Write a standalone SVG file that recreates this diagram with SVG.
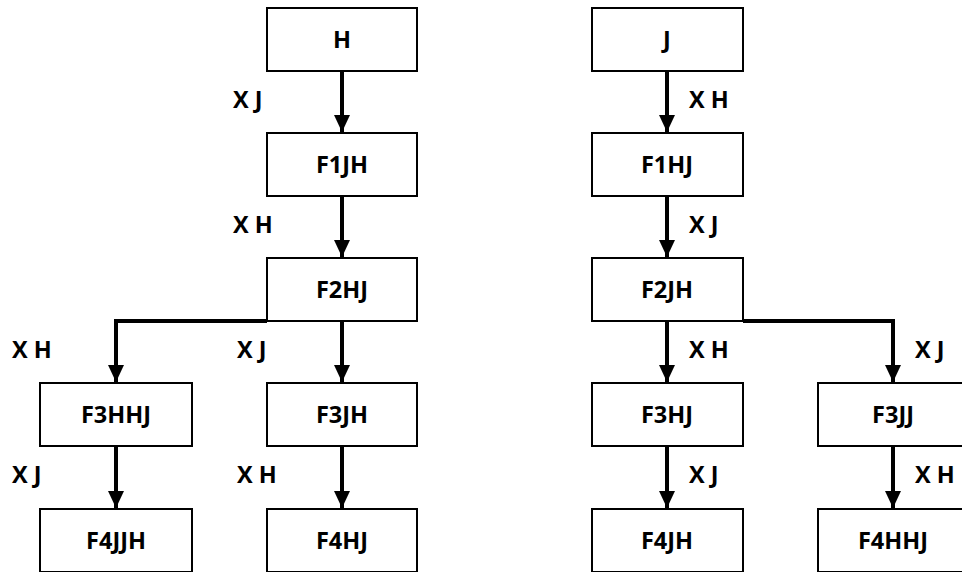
<svg xmlns="http://www.w3.org/2000/svg" width="962" height="572" viewBox="0 0 962 572">
  <style>
    .box { fill: #fff; stroke: #000; stroke-width: 2; }
    .t { font-family: "Open Sans", "Liberation Sans", sans-serif; font-weight: bold; font-size: 23.5px; fill: #000; }
    .c { text-anchor: middle; }
    .edge { fill: none; stroke: #000; stroke-width: 4; }
  </style>
  <defs>
    <marker id="arrow" markerUnits="userSpaceOnUse" markerWidth="18" markerHeight="16" refX="17" refY="8" orient="auto">
      <path d="M0,0 L17,8 L0,16 Z" fill="#000"/>
    </marker>
  </defs>
  <rect width="962" height="572" fill="#fff"/>

  <!-- connectors -->
  <g id="connectors">
    <path class="edge" d="M342,71 V132" marker-end="url(#arrow)"/>
    <path class="edge" d="M342,196 V257" marker-end="url(#arrow)"/>
    <path class="edge" d="M267,321 H116 V382" marker-end="url(#arrow)"/>
    <path class="edge" d="M342,321 V382" marker-end="url(#arrow)"/>
    <path class="edge" d="M116,446 V508" marker-end="url(#arrow)"/>
    <path class="edge" d="M342,446 V508" marker-end="url(#arrow)"/>

    <path class="edge" d="M667,71 V132" marker-end="url(#arrow)"/>
    <path class="edge" d="M667,196 V257" marker-end="url(#arrow)"/>
    <path class="edge" d="M667,321 V382" marker-end="url(#arrow)"/>
    <path class="edge" d="M743,321 H893 V382" marker-end="url(#arrow)"/>
    <path class="edge" d="M667,446 V508" marker-end="url(#arrow)"/>
    <path class="edge" d="M893,446 V508" marker-end="url(#arrow)"/>

    <!-- edge labels -->
    <text class="t" x="233" y="108">X J</text>
    <text class="t" x="233" y="233">X H</text>
    <text class="t" x="12" y="358">X H</text>
    <text class="t" x="237" y="358">X J</text>
    <text class="t" x="12" y="483">X J</text>
    <text class="t" x="237" y="483">X H</text>

    <text class="t" x="689" y="108">X H</text>
    <text class="t" x="689" y="233">X J</text>
    <text class="t" x="689" y="358">X H</text>
    <text class="t" x="915" y="358">X J</text>
    <text class="t" x="689" y="483">X J</text>
    <text class="t" x="915" y="483">X H</text>
  </g>

  <!-- left tree -->
  <g id="H"><rect class="box" x="267" y="8" width="150" height="63"/><text class="t c" x="342" y="48">H</text></g>
  <g id="F1JH"><rect class="box" x="267" y="133" width="150" height="63"/><text class="t c" x="342" y="173">F1JH</text></g>
  <g id="F2HJ"><rect class="box" x="267" y="258" width="150" height="63"/><text class="t c" x="342" y="298">F2HJ</text></g>
  <g id="F3HHJ"><rect class="box" x="40" y="383" width="152" height="63"/><text class="t c" x="116" y="423">F3HHJ</text></g>
  <g id="F3JH"><rect class="box" x="267" y="383" width="150" height="63"/><text class="t c" x="342" y="423">F3JH</text></g>
  <g id="F4JJH"><rect class="box" x="40" y="509" width="152" height="63"/><text class="t c" x="116" y="549">F4JJH</text></g>
  <g id="F4HJ"><rect class="box" x="267" y="509" width="150" height="63"/><text class="t c" x="342" y="549">F4HJ</text></g>

  <!-- right tree -->
  <g id="J"><rect class="box" x="592" y="8" width="151" height="63"/><text class="t c" x="667" y="48">J</text></g>
  <g id="F1HJ"><rect class="box" x="592" y="133" width="151" height="63"/><text class="t c" x="667" y="173">F1HJ</text></g>
  <g id="F2JH"><rect class="box" x="592" y="258" width="151" height="63"/><text class="t c" x="667" y="298">F2JH</text></g>
  <g id="F3HJ"><rect class="box" x="592" y="383" width="151" height="63"/><text class="t c" x="667" y="423">F3HJ</text></g>
  <g id="F3JJ"><rect class="box" x="818" y="383" width="151" height="63"/><text class="t c" x="893" y="423">F3JJ</text></g>
  <g id="F4JH"><rect class="box" x="592" y="509" width="151" height="63"/><text class="t c" x="667" y="549">F4JH</text></g>
  <g id="F4HHJ"><rect class="box" x="818" y="509" width="151" height="63"/><text class="t c" x="893" y="549">F4HHJ</text></g>
</svg>
